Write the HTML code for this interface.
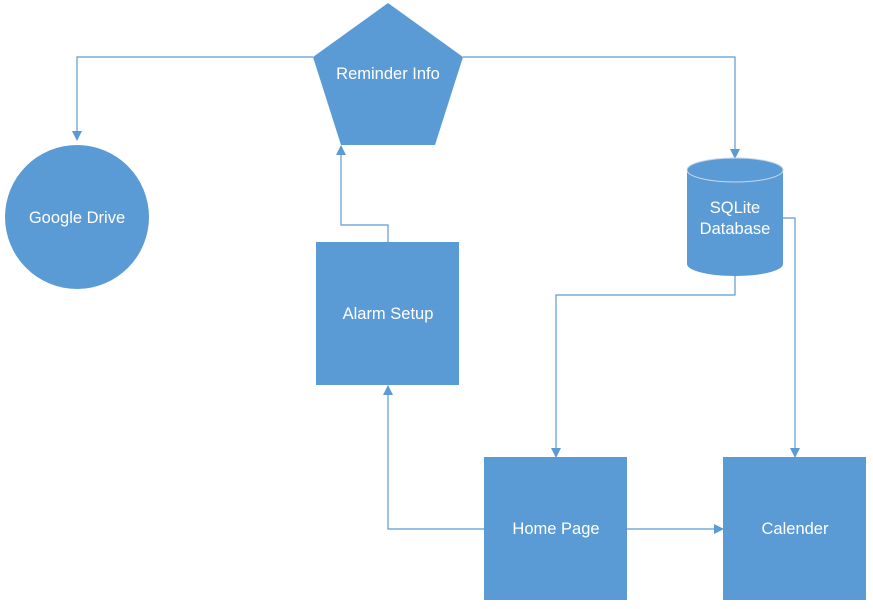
<!DOCTYPE html>
<html><head><style>body{margin:0;background:#fff}svg{display:block}text{font-family:"Liberation Sans",sans-serif;font-size:16.5px;fill:#fff;text-anchor:middle}</style></head>
<body>
<svg width="873" height="609" viewBox="0 0 873 609">
<defs>
<marker id="b" markerWidth="10" markerHeight="10" refX="9" refY="5" orient="auto" markerUnits="userSpaceOnUse"><path d="M0,0 L10,5 L0,10 z" fill="#5b9bd5"/></marker></defs>
<g fill="none" stroke="#5b9bd5" stroke-width="1.2">
<polyline points="313,57 77,57 77,140" marker-end="url(#b)"/>
<polyline points="463,57 735,57 735,158" marker-end="url(#b)"/>
<polyline points="388,242 388,225 341,225 341,146" marker-end="url(#b)"/>
<polyline points="735,276 735,295 556,295 556,457" marker-end="url(#b)"/>
<polyline points="783,218 795,218 795,457" marker-end="url(#b)"/>
<polyline points="484,529 388,529 388,386" marker-end="url(#b)"/>
<polyline points="627,529 723,529" marker-end="url(#b)"/>
</g>
<g fill="#5b9bd5">
<polygon points="388,3 463,57 435,145 341,145 313,57"/>
<circle cx="77" cy="217" r="72"/>
<rect x="316" y="242" width="143" height="143"/>
<rect x="484" y="457" width="143" height="143"/>
<rect x="723" y="457" width="143" height="143"/>
<path d="M687,170 A48,12 0 0 1 783,170 L783,264 A48,12 0 0 1 687,264 Z"/>
</g>
<ellipse cx="735" cy="170" rx="48" ry="12" fill="none" stroke="#c8d8ea" stroke-width="1"/>
<text x="388" y="79">Reminder Info</text>
<text x="77" y="223">Google Drive</text>
<text x="735" y="213">SQLite</text>
<text x="735" y="234">Database</text>
<text x="388" y="319">Alarm Setup</text>
<text x="556" y="534">Home Page</text>
<text x="795" y="534">Calender</text>
</svg>
</body></html>
